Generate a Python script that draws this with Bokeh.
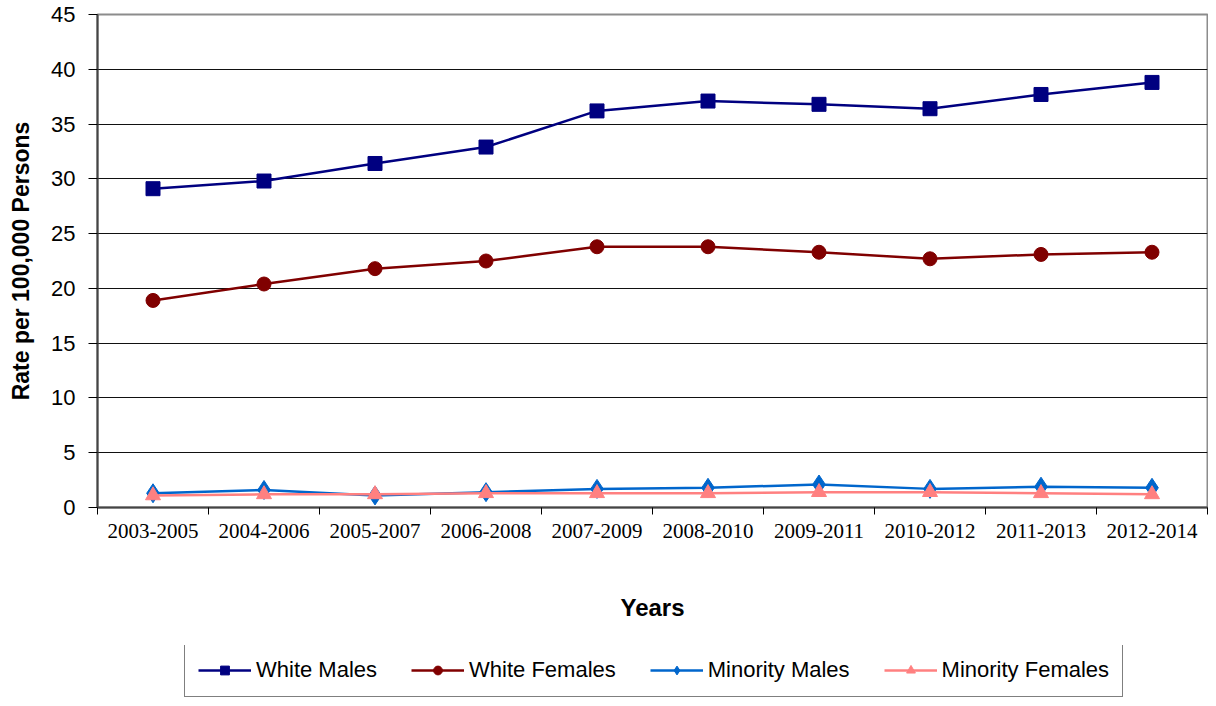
from bokeh.plotting import figure
from bokeh.layouts import column
from bokeh.models import ColumnDataSource, FixedTicker, Legend, LegendItem, Range1d
from bokeh.embed import file_html
from bokeh.resources import INLINE

years = ["2003-2005", "2004-2006", "2005-2007", "2006-2008", "2007-2009",
         "2008-2010", "2009-2011", "2010-2012", "2011-2013", "2012-2014"]
white_males = [29.1, 29.8, 31.4, 32.9, 36.2, 37.1, 36.8, 36.4, 37.7, 38.8]
white_females = [18.9, 20.4, 21.8, 22.5, 23.8, 23.8, 23.3, 22.7, 23.1, 23.3]
minority_males = [1.3, 1.6, 1.1, 1.4, 1.7, 1.8, 2.1, 1.7, 1.9, 1.8]
minority_females = [1.1, 1.2, 1.2, 1.3, 1.3, 1.3, 1.4, 1.4, 1.3, 1.2]

series_names = ["White Males", "White Females", "Minority Males", "Minority Females"]
series_values = [white_males, white_females, minority_males, minority_females]
colors = ["#000080", "#800000", "#0066CC", "#FF8080"]
markers = ["square", "circle", "diamond", "triangle"]
sizes = [14, 14, 19, 15]

xs = [i + 0.5 for i in range(len(years))]

p = figure(width=1208, height=645, output_backend="svg", toolbar_location=None,
           x_range=Range1d(0, len(years)), y_range=Range1d(0, 45),
           min_border_left=97, min_border_top=14, min_border_right=1,
           min_border_bottom=138)
p.background_fill_color = "white"
p.border_fill_color = "white"
p.outline_line_color = "#8c8c8c"
p.outline_line_width = 2

# legend strip below the chart; its frame sits under the chart frame and its
# y range lies far from the data, so only the legend samples are visible there
lg = figure(width=1208, height=53, output_backend="svg", toolbar_location=None,
            x_range=Range1d(0, len(years)), y_range=Range1d(-200, -199),
            min_border=0, outline_line_color=None)
lg.axis.visible = False
lg.grid.visible = False

items = []
for name, vals, color, marker, size in zip(series_names, series_values, colors, markers, sizes):
    src = ColumnDataSource(dict(x=xs, y=vals))
    p.line("x", "y", source=src, line_color=color, line_width=2.5)
    p.scatter("x", "y", source=src, marker=marker, size=size,
              fill_color=color, line_color=color)
    r1 = lg.line("x", "y", source=src, line_color=color, line_width=2.5)
    r2 = lg.scatter("x", "y", source=src, marker=marker, size=size,
                    fill_color=color, line_color=color)
    items.append(LegendItem(label=name, renderers=[r1, r2]))

# x axis
p.xaxis.ticker = FixedTicker(ticks=xs, minor_ticks=list(range(len(years) + 1)))
p.xaxis.major_label_overrides = {x: y for x, y in zip(xs, years)}
p.xaxis.major_tick_out = 0
p.xaxis.major_tick_in = 0
p.xaxis.minor_tick_out = 7
p.xaxis.minor_tick_in = 0
p.xaxis.minor_tick_line_color = "black"
p.xaxis.major_label_text_font = "Liberation Serif"
p.xaxis.major_label_text_font_size = "21px"
p.xaxis.major_label_text_color = "black"
p.xaxis.major_label_standoff = 9
p.xaxis.axis_label = "Years"
p.xaxis.axis_label_text_font = "Liberation Sans"
p.xaxis.axis_label_text_font_style = "bold"
p.xaxis.axis_label_text_font_size = "24px"
p.xaxis.axis_label_text_color = "black"
p.xaxis.axis_label_standoff = 53
p.xaxis.axis_line_color = "#444444"
p.xaxis.axis_line_width = 2

# y axis
p.yaxis.ticker = FixedTicker(ticks=list(range(0, 46, 5)))
p.yaxis.minor_tick_line_color = None
p.yaxis.major_tick_out = 9
p.yaxis.major_tick_in = 0
p.yaxis.major_tick_line_color = "black"
p.yaxis.major_label_text_font = "Liberation Sans"
p.yaxis.major_label_text_font_size = "22px"
p.yaxis.major_label_text_color = "black"
p.yaxis.major_label_standoff = 13
p.yaxis.axis_label = "Rate per 100,000 Persons"
p.yaxis.axis_label_text_font = "Liberation Sans"
p.yaxis.axis_label_text_font_style = "bold"
p.yaxis.axis_label_text_font_size = "23px"
p.yaxis.axis_label_text_color = "black"
p.yaxis.axis_label_standoff = 14
p.yaxis.axis_line_color = "#444444"
p.yaxis.axis_line_width = 2

p.xgrid.grid_line_color = None
p.ygrid.grid_line_color = "#111111"
p.ygrid.grid_line_width = 1

legend = Legend(items=items, orientation="horizontal", location=(87, 1))
legend.label_text_font = "Liberation Sans"
legend.label_text_font_size = "22px"
legend.label_text_color = "black"
legend.glyph_width = 53
legend.glyph_height = 22
legend.spacing = 34
legend.padding = 13
legend.margin = 0
legend.border_line_color = "black"
legend.border_line_width = 1
legend.label_standoff = 5
lg.add_layout(legend, "center")

layout = column(p, lg, spacing=0)
open("out.html", "w").write(file_html(layout, INLINE))
